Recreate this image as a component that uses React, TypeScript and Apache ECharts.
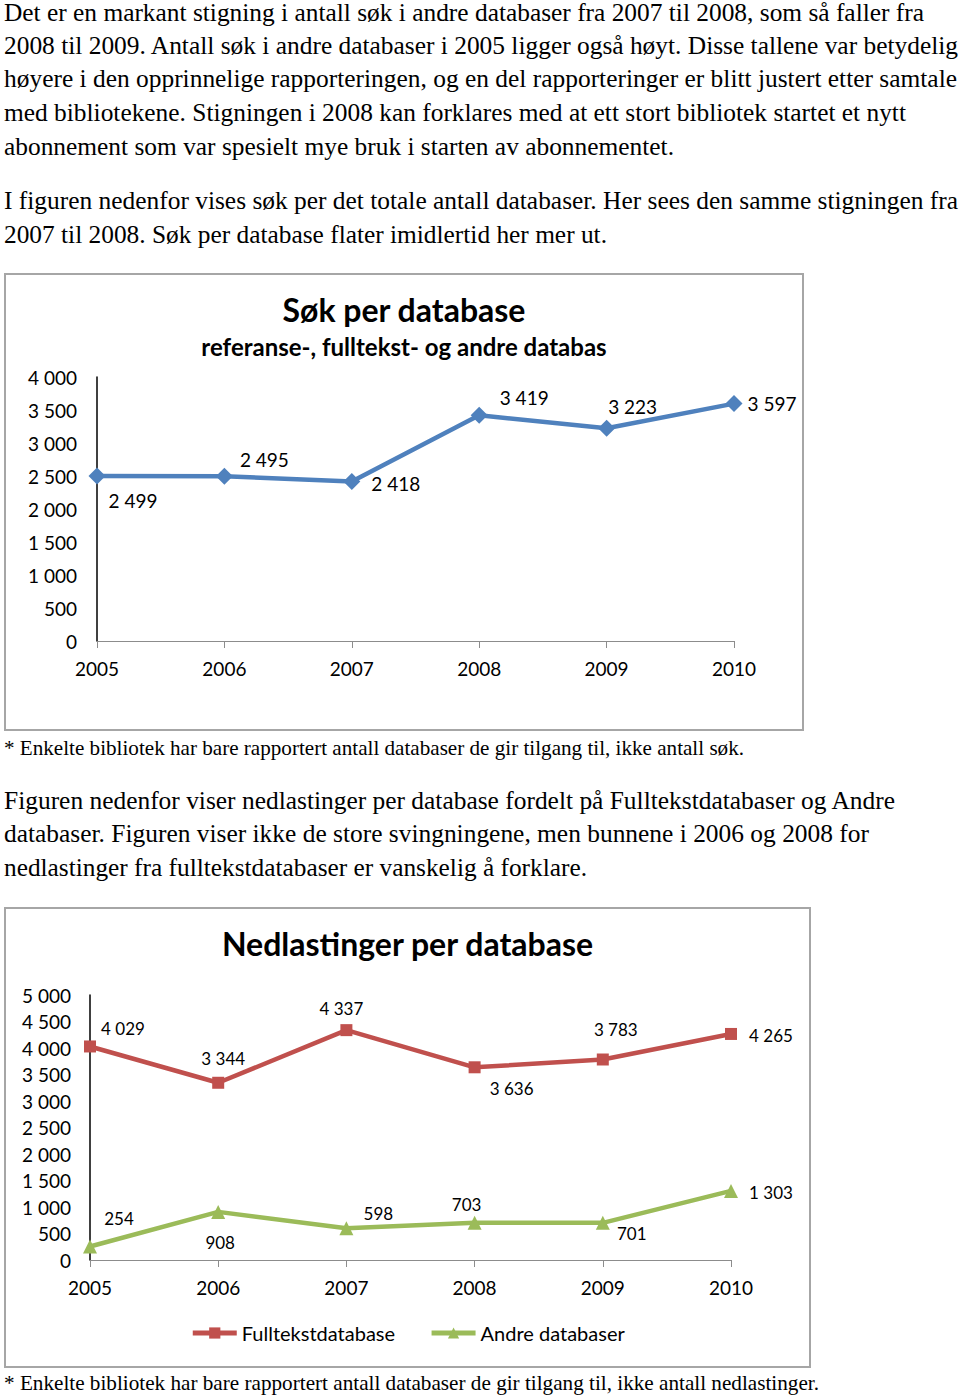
import React, { useEffect, useLayoutEffect, useRef } from 'react';
import * as echarts from 'echarts';

// ---------- data ----------
const years = ['2005', '2006', '2007', '2008', '2009', '2010'];
const sokPerDatabase = [2499, 2495, 2418, 3419, 3223, 3597];
const fulltekstdatabase = [4029, 3344, 4337, 3636, 3783, 4265];
const andreDatabaser = [254, 908, 598, 703, 701, 1303];

// label placement (style, offsets from point centre in px)
const sokLabelOffsets = [[36, 24], [40, -17], [44, 2], [45, -18], [26, -22], [38, 0]];
const fullLabelOffsets = [[33, -18], [5, -24], [-5, -22], [37, 21], [13, -30], [40, 2]];
const andreLabelOffsets = [[29, -28], [2, 31], [32, -15], [-8, -18], [29, 11], [40, 2]];

// ---------- page text ----------
const para1 = [
  'Det er en markant stigning i antall søk i andre databaser fra 2007 til 2008, som så faller fra',
  '2008 til 2009. Antall søk i andre databaser i 2005 ligger også høyt. Disse tallene var betydelig',
  'høyere i den opprinnelige rapporteringen, og en del rapporteringer er blitt justert etter samtale',
  'med bibliotekene. Stigningen i 2008 kan forklares med at ett stort bibliotek startet et nytt',
  'abonnement som var spesielt mye bruk i starten av abonnementet.',
];
const para1Y = [12, 45, 78, 112, 146];
const para1W = [920, 954, 953, 902, 670];
const para2 = [
  'I figuren nedenfor vises søk per det totale antall databaser. Her sees den samme stigningen fra',
  '2007 til 2008. Søk per database flater imidlertid her mer ut.',
];
const para2Y = [200, 234];
const para2W = [954, 603];
const para3 = [
  'Figuren nedenfor viser nedlastinger per database fordelt på Fulltekstdatabaser og Andre',
  'databaser. Figuren viser ikke de store svingningene, men bunnene i 2006 og 2008 for',
  'nedlastinger fra fulltekstdatabaser er vanskelig å forklare.',
];
const para3Y = [800, 833, 867];
const para3W = [891, 865, 583];
const note1 = '* Enkelte bibliotek har bare rapportert antall databaser de gir tilgang til, ikke antall søk.';
const note2 = '* Enkelte bibliotek har bare rapportert antall databaser de gir tilgang til, ikke antall nedlastinger.';

const fmt = (v: number) => String(v).replace(/\B(?=(\d{3})+(?!\d))/g, ' ');
const FONT = 'Lato, "Noto Sans", sans-serif';
const SERIF = '"Liberation Serif", "Times New Roman", serif';

function FitLine({ text, cy, width, size }: { text: string; cy: number; width: number; size: number }) {
  const ref = useRef<HTMLSpanElement>(null);
  useLayoutEffect(() => {
    const el = ref.current;
    if (!el) return;
    el.style.transform = 'none';
    const w = el.getBoundingClientRect().width;
    if (w > 0) el.style.transform = `scaleX(${width / w})`;
  }, [text, width]);
  const lh = Math.round(size * 1.3);
  return (
    <span
      ref={ref}
      style={{
        position: 'absolute',
        left: 4,
        top: cy - lh / 2,
        lineHeight: `${lh}px`,
        fontSize: size,
        fontFamily: SERIF,
        color: '#000',
        whiteSpace: 'nowrap',
        transformOrigin: 'left center',
      }}
    >
      {text}
    </span>
  );
}

function makeData(values: number[], offsets: number[][], fontSize: number) {
  return values.map((v, i) => ({
    value: v,
    label: {
      show: true,
      position: 'inside',
      offset: offsets[i],
      formatter: (p: any) => fmt(p.value),
      fontSize,
      fontFamily: FONT,
      color: '#000',
    },
  }));
}

function Chart1() {
  const ref = useRef<HTMLDivElement>(null);
  useEffect(() => {
    const chart = echarts.init(ref.current!, null, { renderer: 'svg' });
    chart.setOption({
      animation: false,
      title: [
        {
          text: 'Søk per database',
          left: 'center',
          top: 19,
          padding: 0,
          textStyle: { fontFamily: FONT, fontWeight: 'bold', fontSize: 32, color: '#000' },
        },
        {
          text: 'referanse-, fulltekst- og andre databas',
          left: 'center',
          top: 60,
          padding: 0,
          textStyle: { fontFamily: FONT, fontWeight: 'bold', fontSize: 24, color: '#000' },
        },
      ],
      grid: { left: 92, right: 69, top: 103, bottom: 89, containLabel: false },
      xAxis: {
        type: 'category',
        data: years,
        boundaryGap: false,
        axisLine: { show: true, lineStyle: { color: '#8c8c8c', width: 1 } },
        axisTick: { show: true, length: 7, lineStyle: { color: '#8c8c8c' } },
        axisLabel: { fontSize: 19, fontFamily: FONT, color: '#000', margin: 18 },
        splitLine: { show: false },
      },
      yAxis: {
        type: 'value',
        min: 0,
        max: 4000,
        interval: 500,
        axisLine: { show: true, lineStyle: { color: '#000', width: 1.5 } },
        axisTick: { show: false },
        splitLine: { show: false },
        axisLabel: { fontSize: 19, fontFamily: FONT, color: '#000', margin: 20, formatter: (v: number) => fmt(v) },
      },
      series: [
        {
          name: 'Søk per database',
          type: 'line',
          data: makeData(sokPerDatabase, sokLabelOffsets, 19),
          symbol: 'diamond',
          symbolSize: 17,
          lineStyle: { width: 4.5, color: '#4f81bd' },
          itemStyle: { color: '#4f81bd' },
        },
      ],
    });
    return () => chart.dispose();
  }, []);
  return <div ref={ref} style={{ position: 'absolute', left: 5, top: 274, width: 798, height: 456 }} />;
}

function Chart2() {
  const ref = useRef<HTMLDivElement>(null);
  useEffect(() => {
    const chart = echarts.init(ref.current!, null, { renderer: 'svg' });
    chart.setOption({
      animation: false,
      title: {
        text: 'Nedlastinger per database',
        left: 'center',
        top: 19,
        padding: 0,
        textStyle: { fontFamily: FONT, fontWeight: 'bold', fontSize: 32, color: '#000' },
      },
      legend: {
        left: 'center',
        top: 415,
        itemWidth: 44,
        itemHeight: 14,
        itemGap: 34,
        padding: 0,
        lineStyle: { width: 5 },
        textStyle: { fontFamily: FONT, fontSize: 20, color: '#000' },
        data: ['Fulltekstdatabase', 'Andre databaser'],
      },
      grid: { left: 85, right: 79, top: 87, bottom: 107, containLabel: false },
      xAxis: {
        type: 'category',
        data: years,
        boundaryGap: false,
        axisLine: { show: true, lineStyle: { color: '#8c8c8c', width: 1 } },
        axisTick: { show: true, length: 7, lineStyle: { color: '#8c8c8c' } },
        axisLabel: { fontSize: 19, fontFamily: FONT, color: '#000', margin: 18 },
        splitLine: { show: false },
      },
      yAxis: {
        type: 'value',
        min: 0,
        max: 5000,
        interval: 500,
        axisLine: { show: true, lineStyle: { color: '#000', width: 1.5 } },
        axisTick: { show: false },
        splitLine: { show: false },
        axisLabel: { fontSize: 19, fontFamily: FONT, color: '#000', margin: 19, formatter: (v: number) => fmt(v) },
      },
      series: [
        {
          name: 'Fulltekstdatabase',
          type: 'line',
          data: makeData(fulltekstdatabase, fullLabelOffsets, 17),
          symbol: 'rect',
          symbolSize: 12,
          lineStyle: { width: 4.5, color: '#c0504d' },
          itemStyle: { color: '#c0504d' },
        },
        {
          name: 'Andre databaser',
          type: 'line',
          data: makeData(andreDatabaser, andreLabelOffsets, 17),
          symbol: 'triangle',
          symbolSize: 14,
          lineStyle: { width: 4.5, color: '#9bbb59' },
          itemStyle: { color: '#9bbb59' },
        },
      ],
    });
    return () => chart.dispose();
  }, []);
  return <div ref={ref} style={{ position: 'absolute', left: 5, top: 908, width: 805, height: 459 }} />;
}

export default function App() {
  return (
    <div
      style={{
        position: 'absolute',
        left: 0,
        top: 0,
        width: 960,
        height: 1395,
        background: '#fff',
        overflow: 'hidden',
      }}
    >
      {para1.map((t, i) => (
        <FitLine key={'p1' + i} text={t} cy={para1Y[i]} width={para1W[i]} size={25} />
      ))}
      {para2.map((t, i) => (
        <FitLine key={'p2' + i} text={t} cy={para2Y[i]} width={para2W[i]} size={25} />
      ))}
      <div
        style={{
          position: 'absolute',
          left: 4,
          top: 273,
          width: 800,
          height: 458,
          border: '2px solid #a6a6a6',
          boxSizing: 'border-box',
        }}
      />
      <Chart1 />
      <FitLine text={note1} cy={748} width={740} size={21.5} />
      {para3.map((t, i) => (
        <FitLine key={'p3' + i} text={t} cy={para3Y[i]} width={para3W[i]} size={25} />
      ))}
      <div
        style={{
          position: 'absolute',
          left: 4,
          top: 907,
          width: 807,
          height: 461,
          border: '2px solid #a6a6a6',
          boxSizing: 'border-box',
        }}
      />
      <Chart2 />
      <FitLine text={note2} cy={1383} width={815} size={21.5} />
    </div>
  );
}
